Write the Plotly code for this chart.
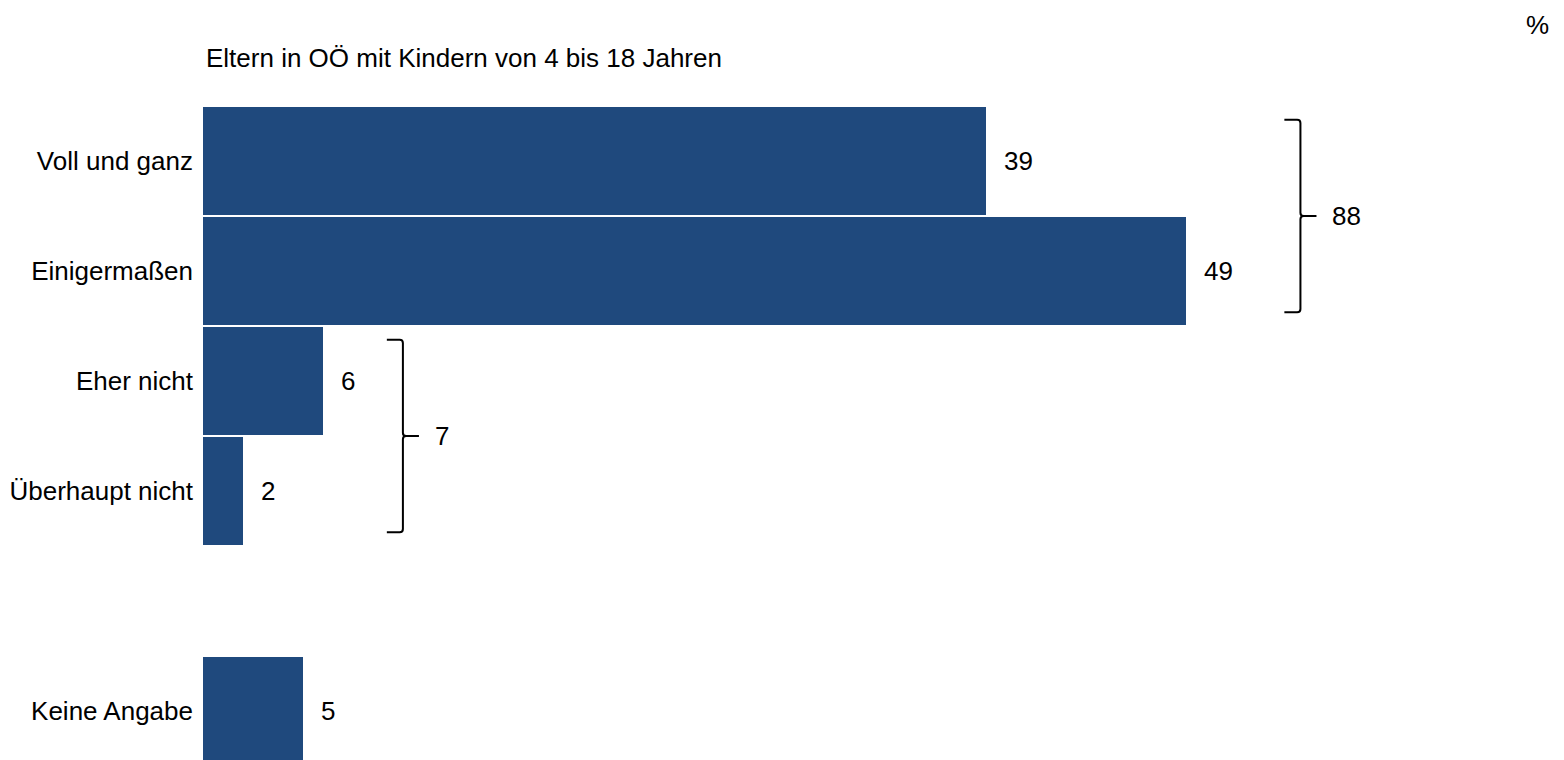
import plotly.graph_objects as go

# ---- data ----
categories = ["Voll und ganz", "Einigermaßen", "Eher nicht", "Überhaupt nicht", "Keine Angabe"]
values = [39, 49, 6, 2, 5]
value_labels = ["39", "49", "6", "2", "5"]
title_text = "Eltern in OÖ mit Kindern von 4 bis 18 Jahren"
unit_text = "%"
# grouped sums shown with curly brackets: (first index, last index, label)
group_first = [0, 2]
group_last = [1, 3]
group_labels = ["88", "7"]

# ---- layout/style constants ----
BAR_COLOR = "#1f497d"
FONT = "Liberation Sans, Arial, sans-serif"
FS = 26
OFF = 8                      # page body margin offset
W, H = 1564 - OFF, 760 - OFF
ML, MT = 203 - OFF, 106 - OFF
SLOT_PX = 110.0
PX_PER_UNIT = 20.07
bracket_x = [54.68, 9.96]   # x of bracket spine (axis units)
hook = 0.8                  # hook length (axis units)
tick_len = 0.8
y_inset = 0.125

# slot positions: a blank slot before the last category
ypos = [i if i < len(categories) - 1 else i + 1 for i in range(len(categories))]

plot_h = H - MT
plot_w = W - ML
y_max = -0.5 + plot_h / SLOT_PX
x_max = plot_w / PX_PER_UNIT

fig = go.Figure()
fig.add_trace(go.Bar(
    x=values, y=ypos, orientation="h",
    marker=dict(color=BAR_COLOR, line=dict(width=0)),
    width=0.975, hoverinfo="skip", showlegend=False,
))

annotations = []
for v, y, lab in zip(values, ypos, value_labels):
    annotations.append(dict(x=v, y=y, xref="x", yref="y", text=lab, showarrow=False,
                            xanchor="left", yanchor="middle", xshift=16,
                            font=dict(family=FONT, size=FS, color="black")))

shapes = []
rx, ry = 0.16, 0.03
for f, l, lab, bx in zip(group_first, group_last, group_labels, bracket_x):
    y0 = ypos[f] - 0.5 + y_inset
    y1 = ypos[l] + 0.5 - y_inset
    ym = (y0 + y1) / 2
    path = (f"M {bx-hook},{y0} L {bx-rx},{y0} Q {bx},{y0} {bx},{y0+ry} "
            f"L {bx},{ym-ry} Q {bx},{ym} {bx+rx},{ym} L {bx+tick_len},{ym} "
            f"M {bx+rx},{ym} Q {bx},{ym} {bx},{ym+ry} "
            f"L {bx},{y1-ry} Q {bx},{y1} {bx-rx},{y1} L {bx-hook},{y1}")
    shapes.append(dict(type="path", path=path, xref="x", yref="y",
                       line=dict(color="black", width=2)))
    annotations.append(dict(x=bx + tick_len, y=ym, xref="x", yref="y", text=lab,
                            showarrow=False, xanchor="left", yanchor="middle", xshift=14,
                            font=dict(family=FONT, size=FS, color="black")))

annotations.append(dict(x=0, y=1 + (106 - 58) / plot_h, xref="paper", yref="paper",
                        text=title_text, showarrow=False, xanchor="left", yanchor="middle",
                        xshift=1, font=dict(family=FONT, size=FS, color="black")))
annotations.append(dict(x=(1537 - 203) / plot_w, y=1 + (106 - 25) / plot_h, xref="paper", yref="paper",
                        text=unit_text, showarrow=False, xanchor="center", yanchor="middle",
                        font=dict(family=FONT, size=FS, color="black")))

fig.update_layout(
    width=W, height=H,
    margin=dict(l=ML, r=0, t=MT, b=0, pad=0, autoexpand=False),
    paper_bgcolor="white", plot_bgcolor="white",
    font=dict(family=FONT, size=FS, color="black"),
    xaxis=dict(range=[0, x_max], visible=False, fixedrange=True),
    yaxis=dict(range=[y_max, -0.5], tickvals=ypos, ticktext=categories,
               showgrid=False, zeroline=False, showline=False, ticks="",
               ticklabelstandoff=9, tickfont=dict(family=FONT, size=FS, color="black"),
               fixedrange=True, automargin=False),
    shapes=shapes, annotations=annotations,
    bargap=0,
)

fig.write_html("out.html", config={"displayModeBar": False})
